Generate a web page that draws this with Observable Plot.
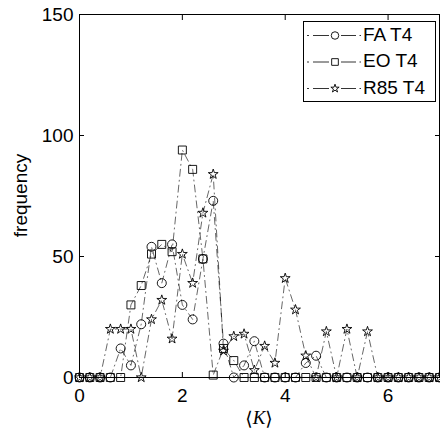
<!DOCTYPE html>
<html><head><meta charset="utf-8">
<script src="https://cdn.jsdelivr.net/npm/d3@7"></script>
<script src="https://cdn.jsdelivr.net/npm/@observablehq/plot@0.6"></script>
<style>body{margin:0;background:#fff}</style>
</head><body><div id="chart"></div>
<script>
const kValues = [0,0.2,0.4,0.6,0.8,1.0,1.2,1.4,1.6,1.8,2.0,2.2,2.4,2.6,2.8,3.0,3.2,3.4,3.6,3.8,4.0,4.2,4.4,4.6,4.8,5.0,5.2,5.4,5.6,5.8,6.0,6.2,6.4,6.6,6.8,7.0];
const faT4  = [0,0,0,0,12,5,22,54,39,55,30,24,49,73,14,0,5,15,0,0,0,0,6,9,0,0,0,0,0,0,0,0,0,0,0,0];
const eoT4  = [0,0,0,0,0,30,38,51,55,52,94,86,49,1,12,7,0,0,0,0,0,0,0,0,0,0,0,0,0,0,0,0,0,0,0,0];
const r85T4 = [0,0,0,20,20,20,0,24,32,16,51,39,68,84,11,17,18,3,13,6,41,28,9,0,19,0,20,0,19,0,0,0,0,0,0,0];
const seriesNames = ["FA T4","EO T4","R85 T4"];
const seriesSymbols = ["circle","square","star"];
const seriesR = [4.5,4.5,3.1];
const xTicks = [0,2,4,6];
const yTicks = [0,50,100,150];

const seriesValues = [faT4, eoT4, r85T4];
const rows = [];
seriesValues.forEach((vals,i)=>vals.forEach((v,j)=>rows.push({series:seriesNames[i], k:kValues[j], f:v})));

const dash = "7,4,1,4";
const font = "'Liberation Sans', Arial, Helvetica, sans-serif";
const fs = 19;

const dotMarks = seriesNames.map((name,i)=>Plot.dot(rows.filter(d=>d.series===name), {
  x:"k", y:"f", symbol: seriesSymbols[i], r: seriesR[i], stroke:"black", fill:"none", strokeWidth:0.9
}));

const chart = Plot.plot({
  width:440, height:434, marginLeft:79, marginRight:1, marginTop:14, marginBottom:57,
  style:{fontFamily:font, fontSize:fs+"px", color:"black", background:"white", overflow:"visible"},
  x:{domain:[0,7], label:null},
  y:{domain:[0,150], label:null},
  marks:[
    Plot.line(rows, {x:"k", y:"f", z:"series", stroke:"black", strokeWidth:0.6, strokeDasharray:dash}),
    ...dotMarks,
    Plot.axisX({anchor:"bottom", ticks:xTicks, tickSize:-5, tickPadding:16, tickFormat:d3.format("d"), label:null, fontSize:fs}),
    Plot.axisX({anchor:"top", ticks:xTicks, tickSize:-5, tickFormat:()=>"", label:null}),
    Plot.axisY({anchor:"left", ticks:yTicks, tickSize:-5, tickPadding:11, tickFormat:d3.format("d"), label:null, fontSize:fs}),
    Plot.axisY({anchor:"right", ticks:yTicks, tickSize:-5, tickFormat:()=>"", label:null}),
    Plot.frame({stroke:"black", strokeWidth:1})
  ]
});
document.getElementById("chart").appendChild(chart);

const svg = d3.select(chart);
const xs = chart.scale("x");
const ys = chart.scale("y");
// y label
svg.append("text")
  .attr("transform", `translate(22,${(ys.apply(0)+ys.apply(150))/2}) rotate(-90)`)
  .attr("text-anchor","middle").attr("dominant-baseline","middle")
  .attr("font-family",font).attr("font-size",fs).attr("fill","black").text("frequency");
// x label <K>
const xl = svg.append("text")
  .attr("x", xs.apply(3.5)).attr("y", 420)
  .attr("text-anchor","middle").attr("dominant-baseline","middle")
  .attr("font-family","'DejaVu Serif', 'Liberation Serif', serif").attr("font-size", 19).attr("fill","black");
xl.append("tspan").text("\u27E8");
xl.append("tspan").attr("font-style","italic").attr("font-family","'Liberation Serif', serif").text("K");
xl.append("tspan").text("\u27E9");

// legend
const lg = svg.append("g");
lg.append("rect").attr("x",303.5).attr("y",21.5).attr("width",132).attr("height",80)
  .attr("fill","white").attr("stroke","black").attr("stroke-width",1);
const rowY = [35.5, 62, 88.5];
const symMap = {circle:d3.symbolCircle, square:d3.symbolSquare, star:d3.symbolStar};
seriesNames.forEach((name,i)=>{
  const y = rowY[i];
  lg.append("line").attr("x1",307).attr("x2",309).attr("y1",y).attr("y2",y).attr("stroke","black").attr("stroke-width",0.8);
  lg.append("line").attr("x1",313).attr("x2",329).attr("y1",y).attr("y2",y).attr("stroke","black").attr("stroke-width",0.8);
  lg.append("line").attr("x1",341).attr("x2",356).attr("y1",y).attr("y2",y).attr("stroke","black").attr("stroke-width",0.8);
  lg.append("line").attr("x1",359.5).attr("x2",361).attr("y1",y).attr("y2",y).attr("stroke","black").attr("stroke-width",0.8);
  lg.append("path").attr("transform",`translate(335,${y})`)
    .attr("d", d3.symbol(symMap[seriesSymbols[i]], Math.PI*seriesR[i]*seriesR[i]*0.7)())
    .attr("fill","none").attr("stroke","black").attr("stroke-width",0.9);
  lg.append("text").attr("x",363).attr("y",y).attr("text-anchor","start").attr("dominant-baseline","middle")
    .attr("font-family",font).attr("font-size",fs).attr("fill","black").text(name);
});
</script>
</body></html>
